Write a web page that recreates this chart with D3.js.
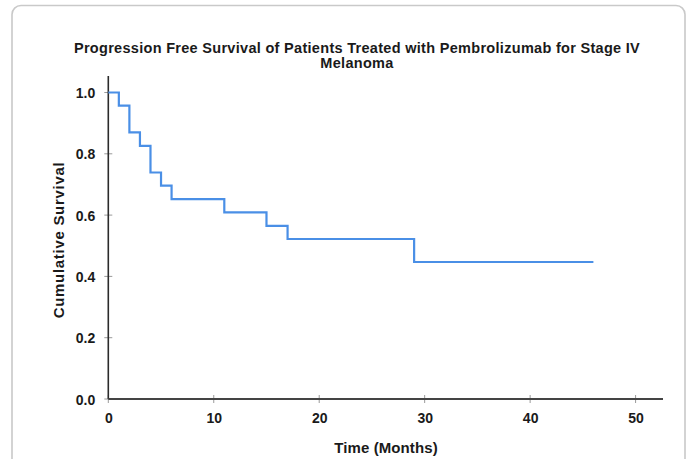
<!DOCTYPE html>
<html>
<head>
<meta charset="utf-8">
<script src="https://cdn.jsdelivr.net/npm/d3@7"></script>
<style>
html,body{margin:0;padding:0;background:#fff;}
svg{display:block;}
text{font-family:"Liberation Sans",Arial,sans-serif;font-weight:bold;fill:#1a1a1a;}
</style>
</head>
<body>
<svg id="chart" width="689" height="459"></svg>
<script>
// Kaplan-Meier step data
const times = [0, 1, 2, 3, 4, 5, 6, 11, 15, 17, 29, 46];
const survival = [1.0, 0.957, 0.870, 0.826, 0.739, 0.696, 0.652, 0.609, 0.565, 0.522, 0.447, 0.447];
const xTicks = [0, 10, 20, 30, 40, 50];
const yTicks = [0.0, 0.2, 0.4, 0.6, 0.8, 1.0];
const titleLines = ["Progression Free Survival of Patients Treated with Pembrolizumab for Stage IV", "Melanoma"];
const xLabel = "Time (Months)";
const yLabel = "Cumulative Survival";

const svg = d3.select("#chart");

// card
svg.append("rect")
  .attr("x", 12).attr("y", 5.5).attr("width", 673).attr("height", 470)
  .attr("rx", 9).attr("fill", "#fff").attr("stroke", "#c9c9c9").attr("stroke-width", 1.6);

const x = d3.scaleLinear().domain([0, 52.6]).range([108.3, 663]);
const y = d3.scaleLinear().domain([0, 1]).range([399, 92.5]);

// title
svg.append("g").selectAll("text").data(titleLines).join("text")
  .attr("x", 357).attr("y", (d, i) => 53 + i * 15)
  .attr("text-anchor", "middle").attr("font-size", 14.5)
  .attr("letter-spacing", 0.3)
  .text(d => d);

// axes
const xAxis = d3.axisBottom(x).tickValues(xTicks).tickFormat(d3.format("d")).tickSize(0);
const gx = svg.append("g").attr("transform", `translate(0,${y(0)})`).call(xAxis);
gx.select(".domain").remove();
gx.selectAll("text").attr("font-size", 14).attr("dy", 0).attr("y", 24).attr("fill", "#1a1a1a")
  .attr("font-family", "Liberation Sans, Arial, sans-serif").attr("font-weight", "bold");

const yAxis = d3.axisLeft(y).tickValues(yTicks).tickFormat(d3.format(".1f")).tickSize(0);
const gy = svg.append("g").attr("transform", `translate(${x(0)},0)`).call(yAxis);
gy.select(".domain").remove();
gy.selectAll("text").attr("font-size", 14).attr("x", -13).attr("dy", "0.36em").attr("fill", "#1a1a1a")
  .attr("font-family", "Liberation Sans, Arial, sans-serif").attr("font-weight", "bold");

// small tick marks crossing axes
svg.append("g").selectAll("line").data(xTicks).join("line")
  .attr("x1", d => x(d)).attr("x2", d => x(d))
  .attr("y1", y(0) - 4).attr("y2", y(0) + 4)
  .attr("stroke", "#9a9a9a").attr("stroke-width", 1);
svg.append("g").selectAll("line").data(yTicks).join("line")
  .attr("x1", x(0) - 4).attr("x2", x(0) + 4)
  .attr("y1", d => y(d)).attr("y2", d => y(d))
  .attr("stroke", "#9a9a9a").attr("stroke-width", 1);

// axis lines
svg.append("line").attr("x1", x(0)).attr("x2", x(0)).attr("y1", 76).attr("y2", y(0))
  .attr("stroke", "#2b2b2b").attr("stroke-width", 1.6);
svg.append("line").attr("x1", x(0)).attr("x2", 663).attr("y1", y(0)).attr("y2", y(0))
  .attr("stroke", "#444").attr("stroke-width", 2);

// axis titles
svg.append("text").attr("x", 386).attr("y", 453).attr("text-anchor", "middle")
  .attr("font-size", 15).attr("letter-spacing", 0.1).text(xLabel);
svg.append("text").attr("transform", "translate(64,240) rotate(-90)").attr("text-anchor", "middle")
  .attr("font-size", 15).attr("letter-spacing", 0.7).text(yLabel);

// survival curve
const pts = times.map((t, i) => [t, survival[i]]);
const line = d3.line().x(d => x(d[0])).y(d => y(d[1])).curve(d3.curveStepAfter);
svg.append("path").datum(pts).attr("d", line)
  .attr("fill", "none").attr("stroke", "#4a8fe6").attr("stroke-width", 2.2);
</script>
</body>
</html>
